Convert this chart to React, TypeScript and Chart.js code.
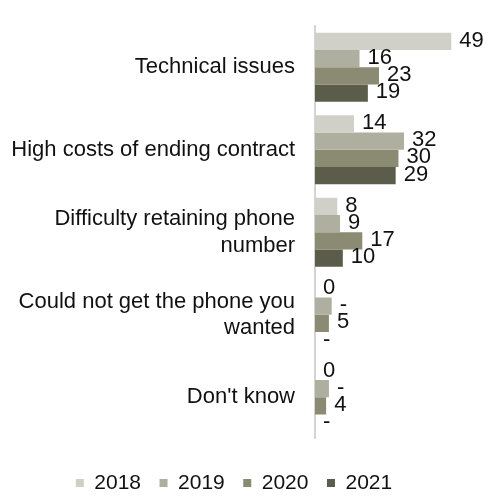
import React, { useEffect, useRef } from "react";
import { Chart, registerables } from "chart.js";

Chart.register(...registerables);

const categories: (string | string[])[] = [
  "Technical issues",
  "High costs of ending contract",
  ["Difficulty retaining phone", "number"],
  ["Could not get the phone you", "wanted"],
  "Don't know",
];

const seriesNames = ["2018", "2019", "2020", "2021"];
const values2018 = [49, 14, 8, 0, 0];
const values2019 = [16, 32, 9, 6, 5];
const values2020 = [23, 30, 17, 5, 4];
const values2021 = [19, 29, 10, 0, 0];
const labels2018 = ["49", "14", "8", "0", "0"];
const labels2019 = ["16", "32", "9", "-", "-"];
const labels2020 = ["23", "30", "17", "5", "4"];
const labels2021 = ["19", "29", "10", "-", "-"];
const colors = ["#d0d0c8", "#afaf9f", "#8b8a73", "#5c5c4b"];

const FONT = "'Liberation Sans', Arial, sans-serif";
const FS = 22;
const LEGEND_FS = 21;

const valueLabelPlugin = {
  id: "valueLabels",
  afterDatasetsDraw(chart: any) {
    const ctx = chart.ctx;
    ctx.save();
    ctx.font = `${FS}px ${FONT}`;
    ctx.fillStyle = "#111111";
    ctx.textAlign = "left";
    ctx.textBaseline = "middle";
    chart.data.datasets.forEach((ds: any, di: number) => {
      const meta = chart.getDatasetMeta(di);
      meta.data.forEach((el: any, i: number) => {
        const txt = ds.valueLabels[i];
        ctx.fillText(txt, el.x + 8, el.y - 1);
      });
    });
    ctx.restore();
  },
};

export default function App() {
  const ref = useRef<HTMLCanvasElement | null>(null);
  useEffect(() => {
    document.body.style.margin = "0";
    const seriesValues = [values2018, values2019, values2020, values2021];
    const seriesLabels = [labels2018, labels2019, labels2020, labels2021];
    const chart = new Chart(ref.current as HTMLCanvasElement, {
      type: "bar",
      data: {
        labels: categories,
        datasets: seriesNames.map((name, i) => ({
          label: name,
          data: seriesValues[i],
          valueLabels: seriesLabels[i],
          backgroundColor: colors[i],
          borderWidth: 0,
          barPercentage: 1,
          categoryPercentage: 0.834,
        })) as any,
      },
      options: {
        indexAxis: "y",
        animation: false,
        responsive: false,
        devicePixelRatio: 1,
        layout: { padding: { top: 26, left: 0, right: 22, bottom: -4.5 } },
        scales: {
          x: {
            min: 0,
            max: 55,
            display: true,
            grid: { display: false, drawTicks: false },
            border: { display: false },
            ticks: { display: false },
            afterFit: (s: any) => {
              s.height = 15.5;
              s.paddingLeft = 0;
              s.paddingRight = 0;
            },
          },
          y: {
            grid: { display: false, drawTicks: false },
            border: { display: true, color: "#d4d4d4", width: 2 },
            ticks: {
              padding: 20,
              color: "#111111",
              font: { family: FONT, size: FS },
            },
            afterFit: (s: any) => {
              s.width = 315;
              s.paddingTop = 0;
              s.paddingBottom = 0;
            },
          },
        },
        plugins: {
          legend: {
            position: "bottom",
            align: "center",
            labels: {
              boxWidth: 8,
              boxHeight: 8,
              padding: 18.5,
              color: "#111111",
              font: { family: FONT, size: LEGEND_FS },
            },
          },
          tooltip: { enabled: false },
        },
      },
      plugins: [valueLabelPlugin],
    });
    return () => chart.destroy();
  }, []);
  return (
    <div style={{ width: 490, height: 499 }}>
      <canvas ref={ref} width={490} height={499} />
    </div>
  );
}
